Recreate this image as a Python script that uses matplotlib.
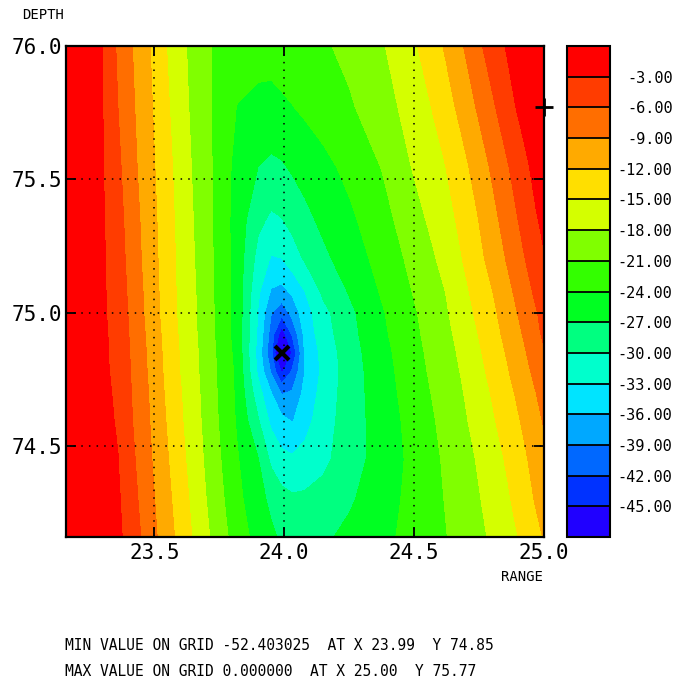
import matplotlib
matplotlib.use("Agg")
import matplotlib.pyplot as plt
import numpy as np

plt.rcParams["font.family"] = ["DejaVu Sans Mono"]

# grid nodes (range in km, depth top -> bottom)
range_nodes = [23.16, 23.30, 23.36, 23.42, 23.48, 23.54, 23.60, 23.66, 23.72,
               23.82, 23.90, 23.95, 23.99, 24.03, 24.08, 24.15, 24.25, 24.38,
               24.50, 24.56, 24.62, 24.68, 24.74, 24.80, 24.86, 24.92, 24.97, 25.00]
depth_nodes = [76.00, 75.77, 75.55, 75.35, 75.20, 75.08, 75.00, 74.92, 74.85, 74.78,
               74.70, 74.60, 74.45, 74.30, 74.16]

# one row per depth node, one value per range node
grid_db = [
    [-1.0, -3.0, -6.5, -9.2, -11.8, -14.7, -17.2, -19.2, -21.0,
     -21.9, -22.6, -23.0, -22.7, -22.3, -21.9, -21.4, -20.2, -18.2,
     -15.4, -13.6, -11.7, -9.4, -7.0, -4.4, -2.7, -2.0, -1.5, -1.2],
    [-0.9, -2.9, -6.0, -8.8, -11.4, -14.2, -16.8, -19.0, -21.0,
     -24.15, -24.95, -24.8, -24.45, -24.1, -23.5, -22.6, -21.4, -19.2,
     -16.7, -15.2, -13.3, -11.25, -8.9, -6.6, -4.0, -2.1, -0.8, 0.0],
    [-0.9, -2.8, -5.4, -8.4, -11.0, -13.7, -16.3, -18.7, -20.9,
     -25.0, -27.0, -27.6, -27.3, -26.6, -25.8, -24.8, -23.2, -20.8,
     -17.7, -16.4, -15.05, -13.1, -10.9, -8.55, -6.2, -3.8, -2.1, -1.2],
    [-0.9, -2.7, -4.9, -7.9, -10.6, -13.4, -16.0, -18.4, -20.8,
     -25.3, -29.3, -30.5, -30.1, -29.1, -27.8, -26.3, -24.6, -22.0,
     -19.1, -17.6, -16.1, -14.4, -12.3, -10.0, -7.6, -5.2, -3.2, -2.4],
    [-0.9, -2.6, -4.6, -7.6, -10.4, -13.2, -15.8, -18.2, -20.7,
     -25.3, -31.1, -33.3, -33.1, -31.5, -29.7, -27.7, -25.6, -22.9,
     -20.1, -18.7, -17.0, -15.2, -13.1, -11.0, -8.7, -6.3, -4.4, -3.2],
    [-0.9, -2.6, -4.3, -7.3, -10.1, -13.1, -15.7, -18.0, -20.6,
     -25.3, -32.5, -36.3, -36.9, -35.5, -33.0, -29.4, -26.8, -23.6,
     -20.8, -19.4, -18.0, -16.05, -14.1, -12.1, -9.8, -7.4, -5.4, -4.2],
    [-0.9, -2.6, -4.1, -7.1, -10.0, -13.0, -15.6, -17.9, -20.5,
     -25.2, -33.3, -38.9, -41.0, -38.1, -34.3, -30.9, -27.7, -24.2,
     -21.3, -19.9, -18.4, -16.6, -14.6, -12.7, -10.5, -8.1, -6.2, -5.0],
    [-0.9, -2.5, -3.9, -6.9, -9.7, -12.7, -15.4, -17.8, -20.4,
     -25.3, -33.6, -40.3, -46.8, -41.7, -35.0, -31.4, -28.0, -24.5,
     -21.6, -20.2, -18.8, -17.1, -15.2, -13.2, -11.1, -8.85, -6.7, -5.5],
    [-0.9, -2.5, -3.8, -6.7, -9.5, -12.5, -15.2, -17.6, -20.2,
     -25.0, -34.2, -41.2, -52.403, -44.9, -35.6, -32.1, -28.3, -24.9,
     -21.9, -20.5, -19.1, -17.55, -15.7, -13.7, -11.7, -9.5, -7.5, -6.3],
    [-0.9, -2.5, -3.6, -6.6, -9.35, -12.35, -15.1, -17.5, -20.1,
     -24.7, -33.6, -39.4, -45.4, -41.7, -35.9, -32.3, -28.5, -25.1,
     -22.2, -20.75, -19.3, -17.9, -16.1, -14.2, -12.2, -10.05, -8.2, -7.1],
    [-0.9, -2.4, -3.4, -6.4, -9.1, -12.1, -14.8, -17.3, -20.0,
     -24.6, -31.8, -35.9, -39.3, -38.6, -35.1, -31.9, -28.5, -25.3,
     -22.5, -21.1, -19.7, -18.3, -16.6, -14.8, -12.9, -10.8, -9.0, -7.9],
    [-0.9, -2.4, -3.2, -6.2, -8.9, -11.8, -14.6, -17.1, -19.8,
     -24.4, -29.8, -33.8, -35.3, -36.3, -34.1, -31.4, -28.5, -25.5,
     -22.9, -21.5, -20.1, -18.7, -17.1, -15.4, -13.5, -11.6, -9.8, -8.7],
    [-0.9, -2.35, -2.95, -5.7, -8.5, -11.3, -14.1, -16.7, -19.4,
     -23.8, -26.9, -30.6, -32.1, -32.5, -32.0, -30.7, -28.4, -25.6,
     -23.25, -21.95, -20.6, -19.3, -17.9, -16.3, -14.6, -12.6, -10.9, -9.9],
    [-0.8, -2.25, -2.6, -5.2, -8.0, -10.8, -13.5, -16.2, -18.9,
     -23.2, -26.1, -27.6, -28.9, -29.5, -29.4, -28.9, -27.4, -25.2,
     -23.1, -22.0, -20.9, -19.7, -18.4, -17.0, -15.4, -13.4, -11.7, -10.7],
    [-0.8, -2.2, -2.4, -4.6, -7.6, -10.3, -13.0, -15.7, -18.3,
     -22.5, -25.1, -26.5, -27.4, -28.0, -28.3, -27.5, -26.3, -24.7,
     -23.0, -22.1, -21.15, -20.0, -18.8, -17.6, -16.1, -14.45, -12.8, -11.8],
]

contour_levels = [-60, -45, -42, -39, -36, -33, -30, -27, -24, -21, -18, -15, -12, -9, -6, -3, 5]
band_colors = ["#2000ff", "#0032ff", "#0068ff", "#00a8ff", "#00e4ff", "#00ffcc", "#00ff80",
               "#00ff22", "#33ff00", "#80ff00", "#d4ff00", "#ffdf00", "#ffaa00", "#ff6e00",
               "#ff3c00", "#ff0000"]

min_val, min_x, min_y = -52.403025, 23.99, 74.85
max_val, max_x, max_y = 0.0, 25.00, 75.77

x_ticks = [23.5, 24.0, 24.5, 25.0]
y_ticks = [74.5, 75.0, 75.5, 76.0]

W, H = 675, 684
fig = plt.figure(figsize=(W / 100, H / 100), dpi=100)
ax = fig.add_axes([66 / W, 1 - 537 / H, 478 / W, 491 / H])
cax = fig.add_axes([567 / W, 1 - 537 / H, 43 / W, 491 / H])

z = np.array(grid_db)[::-1]
y = np.array(depth_nodes)[::-1]
cs = ax.contourf(range_nodes, y, z, levels=contour_levels, colors=band_colors)

ax.set_xlim(range_nodes[0], range_nodes[-1])
ax.set_ylim(depth_nodes[-1], depth_nodes[0])
ax.set_xticks(x_ticks)
ax.set_xticklabels([f"{v:.1f}" for v in x_ticks])
ax.set_yticks(y_ticks)
ax.set_yticklabels([f"{v:.1f}" for v in y_ticks])
ax.tick_params(direction="in", length=7, width=1.3, top=True, right=True, labelsize=15)
ax.tick_params(axis="x", pad=4)
ax.tick_params(axis="y", pad=3)
ax.grid(True, color="k", linestyle=(0, (1, 4)), linewidth=1.1)
for s in ax.spines.values():
    s.set_linewidth(1.6)

ax.plot(min_x, min_y, marker="x", color="k", ms=10, mew=3, zorder=5)
ax.plot(max_x, max_y, marker="+", color="k", ms=13, mew=2, clip_on=False, zorder=5)

cb = fig.colorbar(cs, cax=cax, ticks=contour_levels[1:-1], drawedges=True)
cb.outline.set_linewidth(1.5)
cb.dividers.set_color("k")
cb.dividers.set_linewidth(1.3)
cax.set_yticklabels([f"{v:.2f}" for v in contour_levels[1:-1]])
cax.tick_params(length=0, pad=45, labelsize=11)
for t in cax.get_yticklabels():
    t.set_ha("right")

fig.text(22 / W, 1 - 15 / H, "DEPTH", fontsize=10, va="center", ha="left")
fig.text(543 / W, 1 - 577 / H, "RANGE", fontsize=10, va="center", ha="right")
fig.text(65 / W, 1 - 645 / H,
         f"MIN VALUE ON GRID {min_val:.6f}  AT X {min_x:.2f}  Y {min_y:.2f}",
         fontsize=10.5, va="center", ha="left")
fig.text(65 / W, 1 - 671 / H,
         f"MAX VALUE ON GRID {max_val:.6f}  AT X {max_x:.2f}  Y {max_y:.2f}",
         fontsize=10.5, va="center", ha="left")

fig.savefig("out.png", dpi=100)
